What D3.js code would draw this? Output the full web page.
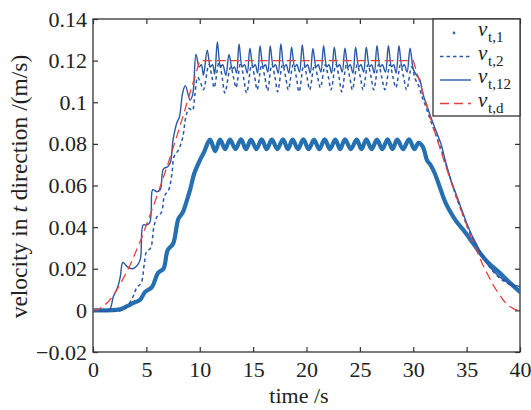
<!DOCTYPE html>
<html><head><meta charset="utf-8">
<script src="https://cdn.jsdelivr.net/npm/d3@7/dist/d3.min.js"></script>
<style>body{margin:0;background:#fff}svg{display:block}text{font-family:"Liberation Serif","Times New Roman",Times,serif;fill:#222}</style>
</head><body><svg id="c" width="531" height="410"></svg>
<script>
// ---- data ----
const xTicks = [0,5,10,15,20,25,30,35,40];
const yTicks = [-0.02,0,0.02,0.04,0.06,0.08,0.1,0.12,0.14];
const yTickLabels = ["\u22120.02","0","0.02","0.04","0.06","0.08","0.1","0.12","0.14"];
const seriesNames = ["t,1","t,2","t,12","t,d"];

// v_t,d desired velocity
const tD = [0,0.5,1,1.5,2,2.5,3,3.5,4,4.5,5,5.5,6,6.5,7,7.5,8,8.5,9,9.5,10,
  30,30.5,31,31.5,32,32.5,33,33.5,34,34.5,35,35.5,36,36.5,37,37.5,38,38.5,39,39.5,40];
const vD = [0,0.0005,0.002,0.0045,0.008,0.012,0.017,0.022,0.028,0.034,0.041,0.048,0.055,0.0625,0.070,0.078,0.086,0.0945,0.103,0.1115,0.12,
  0.12,0.1115,0.103,0.0945,0.086,0.078,0.070,0.0625,0.055,0.048,0.041,0.034,0.028,0.022,0.017,0.012,0.008,0.0045,0.002,0.0005,0];

// v_t,12 thin solid
const t12 = [0,1.5,1.7,1.9,2.3,2.55,2.8,3.2,3.7,4.2,4.45,4.7,5.0,5.3,5.45,5.6,6.0,6.3,6.6,7.0,7.25,7.5,7.85,8.1,8.4,8.65,9.1,9.35,
  9.65,9.95,10.15,10.35,10.7,11.0,11.2,11.4,11.65,11.95,12.15,12.45,12.74,13.05,13.25,13.45,13.68,13.98,14.2,14.45,
  14.7,15.0,15.2,15.42,15.65,15.95,16.15,16.38,16.6,16.9,17.1,17.35,17.6,17.9,18.1,18.35,18.6,18.9,19.1,19.35,
  19.6,19.9,20.1,20.35,20.6,20.9,21.1,21.35,21.6,21.9,22.1,22.35,22.6,22.9,23.1,23.35,23.6,23.9,24.1,24.35,
  24.6,24.9,25.1,25.35,25.6,25.9,26.1,26.35,26.6,26.9,27.1,27.4,27.67,27.97,28.17,28.4,28.66,28.96,29.16,29.42,
  29.7,30.0,30.3,30.6,30.9,31.1,31.5,32.0,32.3,32.6,33.0,33.5,34.0,34.5,35.0,35.5,36.0,36.5,37.0,37.5,38.0,38.5,39.0,39.5,40.0];
const v12 = [0,0,0.002,0.0065,0.011,0.016,0.023,0.021,0.020,0.022,0.025,0.041,0.041,0.042,0.047,0.058,0.057,0.058,0.068,0.069,0.071,0.082,0.090,0.093,0.1045,0.108,0.101,0.104,
  0.123,0.117,0.118,0.113,0.125,0.117,0.118,0.1135,0.129,0.117,0.118,0.113,0.123,0.116,0.117,0.114,0.128,0.117,0.118,0.114,
  0.126,0.117,0.118,0.114,0.127,0.117,0.118,0.1145,0.127,0.117,0.118,0.114,0.128,0.117,0.118,0.114,0.1265,0.117,0.118,0.1145,
  0.1275,0.117,0.118,0.114,0.1258,0.117,0.118,0.1145,0.1272,0.117,0.118,0.114,0.1265,0.117,0.118,0.1145,0.126,0.117,0.118,0.114,
  0.1265,0.117,0.118,0.1145,0.1265,0.117,0.118,0.114,0.1272,0.117,0.118,0.1145,0.1272,0.117,0.118,0.114,0.1272,0.117,0.118,0.1145,
  0.126,0.116,0.113,0.111,0.104,0.101,0.095,0.088,0.084,0.080,0.072,0.063,0.056,0.049,0.042,0.036,0.031,0.026,0.022,0.019,0.0165,0.0145,0.013,0.012,0.0115];

// v_t,2 dashed
const t2 = [0,2.7,3.2,3.7,4.1,4.5,4.8,5.0,5.4,5.7,6.0,6.4,6.7,7.1,7.4,7.6,8.0,8.4,8.7,9.0,9.3,9.55,9.8,10.1,10.35,
  10.85,11.15,11.35,11.8,12.1,12.35,12.9,13.2,13.4,13.83,14.1,14.4,14.85,15.15,15.38,15.8,16.1,16.35,
  16.75,17.05,17.3,17.75,18.05,18.3,18.75,19.05,19.3,19.75,20.05,20.3,20.75,21.05,21.3,21.75,22.05,22.3,
  22.75,23.05,23.3,23.75,24.05,24.3,24.75,25.05,25.3,25.75,26.05,26.3,26.75,27.05,27.35,27.82,28.1,28.38,
  28.8,29.1,29.38,29.85,30.2,30.5,30.8,31.1,31.5,32.0,32.5,33.0,33.5,34.0,34.5,35.0,35.5,36.0,36.5,37.0,37.5,38.0,38.5,39.0,39.5,40.0];
const v2 = [0,0,0.002,0.006,0.011,0.013,0.022,0.028,0.030,0.040,0.045,0.047,0.055,0.058,0.066,0.074,0.077,0.083,0.093,0.097,0.096,0.104,0.112,0.109,0.106,
  0.118,0.112,0.107,0.119,0.112,0.1045,0.117,0.111,0.107,0.119,0.112,0.1045,0.118,0.112,0.106,0.118,0.112,0.1055,
  0.118,0.112,0.105,0.118,0.112,0.106,0.118,0.112,0.105,0.118,0.112,0.106,0.118,0.112,0.107,0.118,0.112,0.106,
  0.118,0.112,0.105,0.118,0.112,0.106,0.118,0.112,0.106,0.118,0.112,0.106,0.118,0.112,0.106,0.118,0.112,0.107,
  0.118,0.112,0.106,0.117,0.111,0.108,0.103,0.099,0.093,0.086,0.079,0.071,0.063,0.055,0.048,0.041,0.035,0.030,0.026,0.022,0.0185,0.016,0.014,0.0125,0.0115,0.011];

// v_t,1 thick dotted
const t1 = [0,2.5,3.2,3.75,4.4,4.9,5.5,6.1,6.6,7.0,7.5,8.0,8.4,8.8,9.1,9.5,10.0,10.4,10.96,
  11.45,11.9,12.37,12.83,13.35,13.86,14.33,14.8,15.3,15.8,16.27,16.75,17.27,17.8,18.25,18.7,19.2,19.7,20.2,20.7,
  21.2,21.7,22.2,22.7,23.15,23.6,24.15,24.7,25.15,25.6,26.1,26.6,27.1,27.6,28.05,28.5,29.05,29.6,
  30.1,30.5,30.9,31.3,31.6,32.0,32.5,33.0,33.4,34.0,34.7,35.5,36.25,37.0,38.1,39.0,40.0];
const v1 = [0,0.0005,0.002,0.0035,0.005,0.009,0.011,0.018,0.020,0.029,0.032,0.044,0.047,0.053,0.058,0.066,0.072,0.076,0.082,
  0.0765,0.082,0.0775,0.082,0.0775,0.0822,0.0775,0.082,0.0775,0.0822,0.0775,0.082,0.0775,0.0822,0.0775,0.082,0.0775,0.0822,0.0775,0.082,
  0.0775,0.0822,0.0775,0.082,0.0775,0.0822,0.0775,0.082,0.0775,0.0822,0.0775,0.082,0.0775,0.0822,0.0775,0.082,0.0775,0.0822,
  0.0775,0.0805,0.0786,0.072,0.070,0.066,0.059,0.052,0.048,0.043,0.0386,0.033,0.0276,0.023,0.018,0.0135,0.0089];

// ---- drawing ----
const svg = d3.select("#c");
const M = {l:93, r:520, t:19, b:352};
const x = d3.scaleLinear().domain([0,40]).range([M.l,M.r]);
const y = d3.scaleLinear().domain([-0.02,0.14]).range([M.b,M.t]);
const zip = (ts,vs)=>ts.map((t,i)=>[t,vs[i]]);
const FONT = "'Liberation Serif','Times New Roman',Times,serif";

const axisColor = "#333";
svg.append("rect").attr("x",M.l).attr("y",M.t).attr("width",M.r-M.l).attr("height",M.b-M.t)
  .attr("fill","none").attr("stroke",axisColor).attr("stroke-width",1.3);

const tl = 5;
const gx = svg.append("g").attr("transform",`translate(0,${M.b})`)
  .call(d3.axisBottom(x).tickValues(xTicks).tickSizeInner(-tl).tickSizeOuter(0).tickPadding(9));
const gxTop = svg.append("g").attr("transform",`translate(0,${M.t})`)
  .call(d3.axisTop(x).tickValues(xTicks).tickSizeInner(-tl).tickSizeOuter(0).tickFormat(""));
const gy = svg.append("g").attr("transform",`translate(${M.l},0)`)
  .call(d3.axisLeft(y).tickValues(yTicks).tickSizeInner(-tl).tickSizeOuter(0).tickPadding(6)
    .tickFormat((d,i)=>yTickLabels[i]));
const gyR = svg.append("g").attr("transform",`translate(${M.r},0)`)
  .call(d3.axisRight(y).tickValues(yTicks).tickSizeInner(-tl).tickSizeOuter(0).tickFormat(""));
[gx,gxTop,gy,gyR].forEach(g=>{
  g.attr("font-family",FONT);
  g.select(".domain").remove();
  g.selectAll(".tick line").attr("stroke",axisColor).attr("stroke-width",1.2);
  g.selectAll(".tick text").style("font-family",FONT).style("font-size","22px").attr("fill","#222");
});

const clip = svg.append("clipPath").attr("id","pc").append("rect")
  .attr("x",M.l).attr("y",M.t).attr("width",M.r-M.l).attr("height",M.b-M.t);
const g = svg.append("g").attr("clip-path","url(#pc)");
const lineCR = d3.line().x(d=>x(d[0])).y(d=>y(d[1])).curve(d3.curveCatmullRom.alpha(0.5));

const cThick = "#2470b0", cBlue = "#2a58a8", cRed = "#e8403c";
g.append("path").attr("d",lineCR(zip(t1,v1))).attr("fill","none").attr("stroke",cThick)
  .attr("stroke-width",4.2).attr("stroke-linejoin","round").attr("stroke-linecap","round");
g.append("path").attr("d",lineCR(zip(t2,v2))).attr("fill","none").attr("stroke",cBlue)
  .attr("stroke-width",1.5).attr("stroke-dasharray","3.5,3");
g.append("path").attr("d",lineCR(zip(t12,v12))).attr("fill","none").attr("stroke",cBlue)
  .attr("stroke-width",1.4);
g.append("path").attr("d",d3.line().x(d=>x(d[0])).y(d=>y(d[1]))(zip(tD,vD))).attr("fill","none").attr("stroke",cRed)
  .attr("stroke-width",1.3).attr("stroke-dasharray","9,5");

// legend
const L = {x:433, y:M.t, w:M.r-433, h:97};
const lg = svg.append("g");
lg.append("rect").attr("x",L.x).attr("y",L.y).attr("width",L.w).attr("height",L.h)
  .attr("fill","#fff").attr("stroke",axisColor).attr("stroke-width",1.3);
const rows = [33,56.5,80,103.5];
const styles = [
  {type:"dot"},
  {stroke:cBlue, dash:"3.5,3", w:1.5},
  {stroke:cBlue, dash:null, w:1.4},
  {stroke:cRed, dash:"9,5", w:1.3}
];
rows.forEach((ry,i)=>{
  const s = styles[i];
  if (s.type==="dot") {
    lg.append("circle").attr("cx",454).attr("cy",ry).attr("r",1.4).attr("fill",cThick);
  } else {
    lg.append("line").attr("x1",440).attr("x2",471).attr("y1",ry).attr("y2",ry)
      .attr("stroke",s.stroke).attr("stroke-width",s.w).attr("stroke-dasharray",s.dash);
  }
  lg.append("text").attr("x",478).attr("y",ry+3).style("font-family",FONT)
    .style("font-style","italic").style("font-size","21px").text("v");
  lg.append("text").attr("x",488).attr("y",ry+9).style("font-family",FONT)
    .style("font-size","15px").text(seriesNames[i]);
});

// axis labels
svg.append("text").attr("x",299).attr("y",403).attr("text-anchor","middle")
  .style("font-family",FONT).style("font-size","22px").text("time /s");
const yl = svg.append("text").attr("transform",`translate(27,${(M.t+M.b)/2+1}) rotate(-90)`)
  .attr("text-anchor","middle").style("font-family",FONT).style("font-size","23.5px");
yl.append("tspan").text("velocity in ");
yl.append("tspan").text("t").style("font-style","italic");
yl.append("tspan").text(" direction /(m/s)");
</script></body></html>
